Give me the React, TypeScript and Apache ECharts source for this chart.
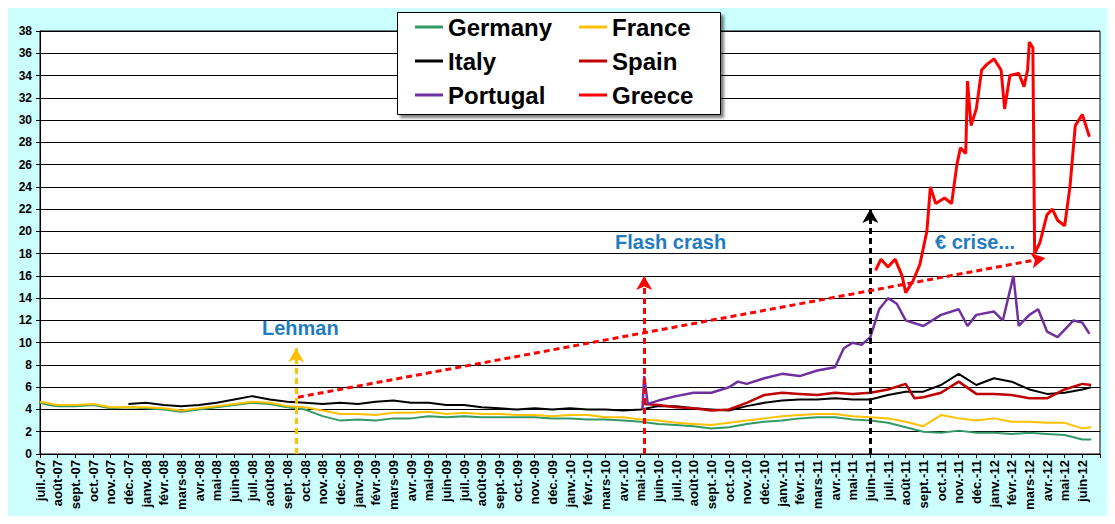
import React, { useEffect, useRef } from 'react'
import * as echarts from 'echarts'

const MONTHS = [
  'juil.-07', 'août-07', 'sept.-07', 'oct.-07', 'nov.-07', 'déc.-07',
  'janv.-08', 'févr.-08', 'mars-08', 'avr.-08', 'mai-08', 'juin-08',
  'juil.-08', 'août-08', 'sept.-08', 'oct.-08', 'nov.-08', 'déc.-08',
  'janv.-09', 'févr.-09', 'mars-09', 'avr.-09', 'mai-09', 'juin-09',
  'juil.-09', 'août-09', 'sept.-09', 'oct.-09', 'nov.-09', 'déc.-09',
  'janv.-10', 'févr.-10', 'mars-10', 'avr.-10', 'mai-10', 'juin-10',
  'juil.-10', 'août-10', 'sept.-10', 'oct.-10', 'nov.-10', 'déc.-10',
  'janv.-11', 'févr.-11', 'mars-11', 'avr.-11', 'mai-11', 'juin-11',
  'juil.-11', 'août-11', 'sept.-11', 'oct.-11', 'nov.-11', 'déc.-11',
  'janv.-12', 'févr.-12', 'mars-12', 'avr.-12', 'mai-12', 'juin-12',
]

// [month index, value]
const germany = [
  [0, 4.6], [0.5, 4.4], [1, 4.3], [2, 4.3], [3, 4.4], [4, 4.1], [5, 4.2], [6, 4.1], [7, 4.0], [8, 3.8],
  [9, 4.0], [10, 4.2], [11, 4.4], [12, 4.6], [13, 4.5], [14, 4.2], [15, 4.0], [15.5, 3.7], [16, 3.4], [17, 3.0],
  [18, 3.1], [19, 3.0], [20, 3.2], [21, 3.2], [22, 3.4], [23, 3.3], [24, 3.4], [25, 3.3], [26, 3.3], [27, 3.3],
  [28, 3.3], [29, 3.2], [30, 3.2], [31, 3.1], [32, 3.1], [33, 3.0], [34, 2.9], [35, 2.7], [36, 2.6], [37, 2.5],
  [38, 2.3], [39, 2.4], [40, 2.7], [41, 2.9], [42, 3.0], [43, 3.2], [44, 3.3], [45, 3.3], [46, 3.1], [47, 3.0],
  [48, 2.8], [49, 2.4], [50, 2.0], [51, 1.9], [52, 2.1], [53, 1.9], [54, 1.9], [55, 1.8], [56, 1.9], [57, 1.8],
  [58, 1.7], [59, 1.3], [59.5, 1.3],
]
const france = [
  [0, 4.7], [1, 4.4], [2, 4.4], [3, 4.5], [4, 4.2], [5, 4.2], [6, 4.2], [7, 4.1], [8, 3.9], [9, 4.1],
  [10, 4.3], [11, 4.5], [12, 4.7], [13, 4.6], [14, 4.3], [15, 4.2], [16, 3.9], [17, 3.6], [18, 3.6], [19, 3.5],
  [20, 3.7], [21, 3.7], [22, 3.8], [23, 3.6], [24, 3.7], [25, 3.6], [26, 3.6], [27, 3.5], [28, 3.5], [29, 3.4],
  [30, 3.5], [31, 3.5], [32, 3.3], [33, 3.3], [34, 3.1], [35, 3.0], [36, 2.8], [37, 2.7], [38, 2.6], [39, 2.8],
  [40, 3.0], [41, 3.2], [42, 3.4], [43, 3.5], [44, 3.6], [45, 3.6], [46, 3.4], [47, 3.3], [48, 3.2], [49, 2.9],
  [50, 2.5], [51, 3.5], [52, 3.2], [53, 3.0], [54, 3.2], [55, 2.9], [56, 2.9], [57, 2.8], [58, 2.8], [59, 2.3],
  [59.5, 2.4],
]
const italy = [
  [5, 4.5], [6, 4.6], [7, 4.4], [8, 4.3], [9, 4.4], [10, 4.6], [11, 4.9], [12, 5.2], [13, 4.9], [14, 4.7],
  [15, 4.6], [16, 4.5], [17, 4.6], [18, 4.5], [19, 4.7], [20, 4.8], [21, 4.6], [22, 4.6], [23, 4.4], [24, 4.4],
  [25, 4.2], [26, 4.1], [27, 4.0], [28, 4.1], [29, 4.0], [30, 4.1], [31, 4.0], [32, 4.0], [33, 3.9], [34, 4.0],
  [35, 4.3], [36, 4.3], [37, 4.1], [38, 4.0], [39, 3.9], [40, 4.3], [41, 4.6], [42, 4.8], [43, 4.9], [44, 4.9],
  [45, 5.0], [46, 4.9], [47, 4.9], [48, 5.3], [49, 5.6], [50, 5.6], [51, 6.2], [52, 7.2], [53, 6.2], [54, 6.8],
  [55, 6.5], [56, 5.8], [57, 5.4], [58, 5.5], [59, 5.8], [59.5, 6.0],
]
const spain = [
  [34.2, 4.5], [35, 4.4], [36, 4.2], [37, 4.1], [38, 3.9], [39, 4.0], [40, 4.6], [41, 5.3], [42, 5.5], [43, 5.4],
  [44, 5.3], [45, 5.5], [46, 5.4], [47, 5.5], [48, 5.8], [49, 6.3], [49.5, 5.0], [50, 5.1], [51, 5.5], [52, 6.5],
  [53, 5.4], [54, 5.4], [55, 5.3], [56, 5.0], [57, 5.0], [58, 5.8], [59, 6.3], [59.5, 6.2],
]
const portugal = [
  [34.1, 4.0], [34.2, 7.0], [34.4, 4.5], [35, 4.8], [36, 5.2], [37, 5.5], [38, 5.5], [39, 6.0], [39.5, 6.5], [40, 6.3],
  [41, 6.8], [42, 7.2], [43, 7.0], [44, 7.5], [45, 7.8], [45.5, 9.5], [46, 10], [46.5, 9.8], [47, 10.5], [47.5, 13],
  [48, 14], [48.5, 13.5], [49, 12], [50, 11.5], [51, 12.5], [52, 13], [52.5, 11.5], [53, 12.5], [54, 12.8], [54.5, 12],
  [55.1, 16], [55.4, 11.5], [56, 12.5], [56.5, 13], [57, 11], [57.6, 10.5], [58.5, 12], [59, 11.8], [59.4, 10.8],
]
const greece = [
  [47.3, 16.5], [47.6, 17.5], [48, 16.8], [48.4, 17.5], [48.8, 16], [49.0, 14.5], [49.4, 15.5], [49.8, 17], [50.2, 20], [50.4, 24],
  [50.7, 22.5], [51.2, 23], [51.6, 22.5], [51.9, 26], [52.1, 27.5], [52.4, 27], [52.5, 33.5], [52.7, 29.5], [53, 31], [53.3, 34.5],
  [53.6, 35], [54, 35.5], [54.4, 34.5], [54.6, 31], [54.9, 34], [55.4, 34.2], [55.7, 33], [55.9, 34.5], [56.0, 37], [56.2, 36.5],
  [56.3, 18], [56.6, 19], [57, 21.5], [57.3, 22], [57.6, 21], [58, 20.5], [58.3, 24], [58.6, 29.5], [59, 30.5], [59.2, 29.5],
  [59.4, 28.5],
]

const ARROWS = [
  { from: [14.5, 0], to: [14.5, 9.5], color: '#ffc000' },
  { from: [34.2, 0], to: [34.2, 16], color: '#ff0000' },
  { from: [47, 0], to: [47, 22], color: '#000000' },
  { from: [14.6, 5.1], to: [56.9, 17.6], color: '#ff0000' },
]

const FONT = 'Liberation Sans, Arial, sans-serif'

const App = () => {
  const ref = useRef<HTMLDivElement>(null)

  useEffect(() => {
    if (!ref.current) return
    const chart = echarts.init(ref.current, undefined, { renderer: 'svg' })
    const line = (name: string, color: string, data: number[][], width = 2) => ({
      name,
      type: 'line',
      data,
      showSymbol: false,
      symbol: 'none',
      lineStyle: { color, width },
      itemStyle: { color },
      z: 3,
    })
    const legendText = { fontSize: 24, fontWeight: 'bold', fontFamily: FONT, color: '#000' }
    chart.setOption({
      animation: false,
      backgroundColor: '#ccffff',
      grid: { left: 40, right: 15, top: 31, bottom: 70, backgroundColor: '#fff', show: true, borderColor: '#000', borderWidth: 1 },
      graphic: [
        {
          type: 'rect', left: 397, top: 12, z: 10,
          shape: { width: 323, height: 102 },
          style: { fill: '#fff', stroke: '#000', lineWidth: 1, shadowColor: 'rgba(0,0,0,0.5)', shadowOffsetX: 3, shadowOffsetY: 3, shadowBlur: 3 },
        },
        { type: 'text', left: 262, top: 318, z: 10, style: { text: 'Lehman', fill: '#1f7cc0', font: `bold 20px ${FONT}` } },
        { type: 'text', left: 615, top: 232, z: 10, style: { text: 'Flash crash', fill: '#1f7cc0', font: `bold 20px ${FONT}` } },
        { type: 'text', left: 935, top: 232, z: 10, style: { text: '€ crise...', fill: '#1f7cc0', font: `bold 20px ${FONT}` } },
      ],
      legend: [
        {
          data: ['Germany', 'Italy', 'Portugal'], orient: 'vertical', left: 410, top: 10, itemGap: 10,
          itemWidth: 28, itemHeight: 3, icon: 'rect', textStyle: legendText, z: 11,
        },
        {
          data: ['France', 'Spain', 'Greece'], orient: 'vertical', left: 574, top: 10, itemGap: 10,
          itemWidth: 28, itemHeight: 3, icon: 'rect', textStyle: legendText, z: 11,
        },
      ],
      xAxis: {
        type: 'value', min: 0, max: 60, interval: 1,
        axisLine: { lineStyle: { color: '#000' } },
        axisTick: { show: true, length: 4, lineStyle: { color: '#000' } },
        splitLine: { show: false },
        axisLabel: {
          rotate: 90, fontSize: 13, fontWeight: 'bold', fontFamily: FONT, color: '#000', margin: 6,
          formatter: (v: number) => MONTHS[v] ?? '',
        },
      },
      yAxis: {
        type: 'value', min: 0, max: 38, interval: 2,
        axisLine: { show: true, lineStyle: { color: '#000' } },
        axisTick: { show: true, length: 4, lineStyle: { color: '#000' } },
        splitLine: { lineStyle: { color: '#000', width: 1 } },
        axisLabel: { fontSize: 12, fontWeight: 'bold', fontFamily: FONT, color: '#000', margin: 8 },
      },
      series: [
        line('Germany', '#339966', germany),
        line('France', '#ffc000', france),
        line('Italy', '#000000', italy),
        line('Spain', '#c00000', spain, 2.5),
        line('Portugal', '#7030a0', portugal, 2.5),
        line('Greece', '#ff0000', greece, 3),
        {
          type: 'line', data: [], silent: true, z: 4,
          markLine: {
            silent: true, symbol: ['none', 'arrow'], symbolSize: [12, 14], label: { show: false },
            data: ARROWS.map((a) => [
              { coord: a.from, lineStyle: { color: a.color, type: [6, 4], width: 3 }, itemStyle: { color: a.color } },
              { coord: a.to },
            ]),
          },
        },
      ],
    })
    return () => chart.dispose()
  }, [])

  return <div ref={ref} style={{ width: 1115, height: 524, margin: -8 }} />
}

export default App
